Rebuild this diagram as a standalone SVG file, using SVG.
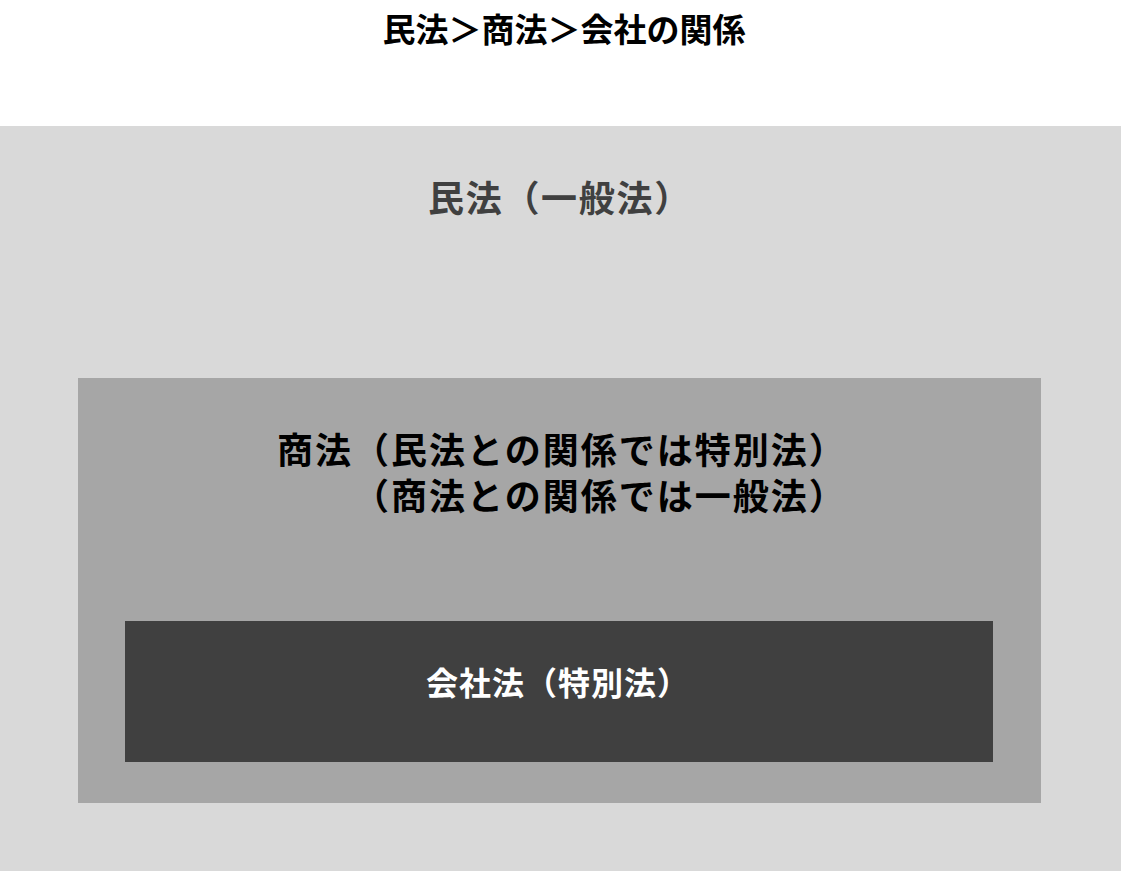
<svg xmlns="http://www.w3.org/2000/svg" width="1121" height="871" viewBox="0 0 1121 871">
<style>
text{font-family:"Noto Sans CJK JP","Noto Sans CJK SC",sans-serif;font-weight:bold;}
.title{font-size:33px;fill:#000;}
.l1{font-size:36px;letter-spacing:1.7px;fill:#404040;}
.l2{font-size:36px;letter-spacing:2px;fill:#000;}
.l3{font-size:32px;letter-spacing:1px;fill:#fff;}
</style>
<rect width="1121" height="871" fill="#fff"/>
<g id="title"><text class="title" x="564" y="42" text-anchor="middle">民法＞商法＞会社の関係</text></g>
<g id="minpo">
<rect x="0" y="126" width="1121" height="745" fill="#d9d9d9"/>
<text class="l1" x="428" y="212">民法（一般法）</text>
</g>
<g id="shoho">
<rect x="78" y="378" width="963" height="425" fill="#a6a6a6"/>
<text class="l2"><tspan x="277" y="464">商法（民法との関係では特別法）</tspan><tspan x="353" y="510">（商法との関係では一般法）</tspan></text>
</g>
<g id="kaisha">
<rect x="125" y="621" width="868" height="141" fill="#404040"/>
<text class="l3" x="426" y="695">会社法（特別法）</text>
</g>
<g id="connectors"></g>
</svg>
